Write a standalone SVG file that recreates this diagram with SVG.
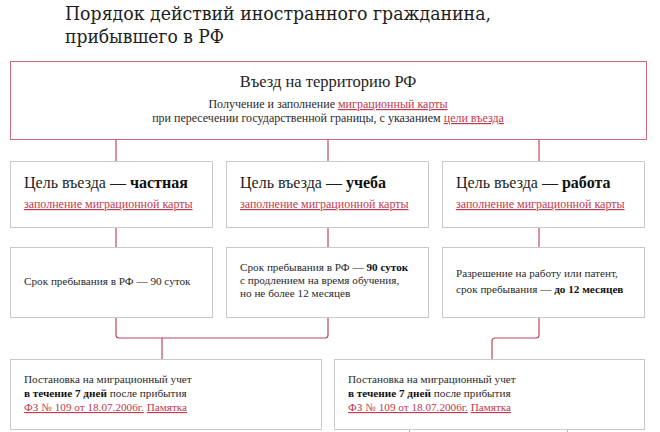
<svg xmlns="http://www.w3.org/2000/svg" width="660" height="432" viewBox="0 0 660 432">
<style>
.bg{fill:#ffffff}
.main{fill:#fff;stroke:#cf6a7c;stroke-width:1}
.box{fill:#fff;stroke:#c9c9c9;stroke-width:1}
.conn{fill:none;stroke:#bb4a5e;stroke-width:1.2}
.edge{fill:none;stroke:#b5b5b5;stroke-width:1}
.title{font-family:"DejaVu Serif","Liberation Serif",serif;font-size:18.5px;fill:#1e1e1e}
.h1{font-family:"Liberation Serif",serif;font-size:16.5px;fill:#1e1e1e}
.h2{font-family:"Liberation Serif",serif;font-size:16px;fill:#1e1e1e}
.t{font-family:"Liberation Serif",serif;font-size:12px;fill:#2a2a2a}
.s{font-family:"Liberation Serif",serif;font-size:11.2px;fill:#2a2a2a}
.b{font-weight:bold;fill:#111}
.lk{fill:#c23a4e;text-decoration:underline;text-decoration-color:#e7a9b3}
</style>
<rect class="bg" x="0" y="0" width="660" height="432"/>
<g id="title">
<text class="title" x="65" y="20" textLength="426" lengthAdjust="spacingAndGlyphs">Порядок действий иностранного гражданина,</text>
<text class="title" x="65" y="43" textLength="159" lengthAdjust="spacingAndGlyphs">прибывшего в РФ</text>
</g>
<g id="connectors">
<line class="conn" x1="116" y1="139" x2="116" y2="161"/>
<line class="conn" x1="328" y1="139" x2="328" y2="161"/>
<line class="conn" x1="539" y1="139" x2="539" y2="161"/>
<line class="conn" x1="116" y1="227" x2="116" y2="247"/>
<line class="conn" x1="328" y1="227" x2="328" y2="247"/>
<line class="conn" x1="539" y1="227" x2="539" y2="247"/>
<path class="conn" d="M116 317 V335 Q116 338 119 338 H325 Q328 338 328 335 V317"/>
<line class="conn" x1="162" y1="338" x2="162" y2="359"/>
<path class="conn" d="M539 317 V335 Q539 338 536 338 H495 Q492 338 492 341 V359"/>
</g>
<g id="entry">
<rect class="main" x="10.5" y="61.5" width="636" height="78"/>
<text class="h1" x="328" y="87" text-anchor="middle">Въезд на территорию РФ</text>
<text class="t" x="328" y="108" text-anchor="middle">Получение и заполнение <tspan class="lk">миграционный карты</tspan></text>
<text class="t" x="328" y="122" text-anchor="middle">при пересечении государственной границы, с указанием <tspan class="lk">цели въезда</tspan></text>
</g>
<g id="private">
<rect class="box" x="10.5" y="161.5" width="202" height="66"/>
<text class="h2" x="24" y="188">Цель въезда — <tspan class="b">частная</tspan></text>
<text class="t" x="24" y="208"><tspan class="lk">заполнение миграционной карты</tspan></text>
</g>
<g id="study">
<rect class="box" x="226.5" y="161.5" width="202" height="66"/>
<text class="h2" x="240" y="188">Цель въезда — <tspan class="b">учеба</tspan></text>
<text class="t" x="240" y="208"><tspan class="lk">заполнение миграционной карты</tspan></text>
</g>
<g id="work">
<rect class="box" x="442.5" y="161.5" width="202" height="66"/>
<text class="h2" x="456" y="188">Цель въезда — <tspan class="b">работа</tspan></text>
<text class="t" x="456" y="208"><tspan class="lk">заполнение миграционной карты</tspan></text>
</g>
<g id="stay-private">
<rect class="box" x="10.5" y="247.5" width="202" height="70"/>
<text class="s" x="24" y="285">Срок пребывания в РФ — 90 суток</text>
</g>
<g id="stay-study">
<rect class="box" x="226.5" y="247.5" width="202" height="70"/>
<text class="s" x="240" y="271">Срок пребывания в РФ — <tspan class="b">90 суток</tspan></text>
<text class="s" x="240" y="284">с продлением на время обучения,</text>
<text class="s" x="240" y="297">но не более 12 месяцев</text>
</g>
<g id="stay-work">
<rect class="box" x="442.5" y="247.5" width="202" height="70"/>
<text class="s" x="456" y="277">Разрешение на работу или патент,</text>
<text class="s" x="456" y="293">срок пребывания — <tspan class="b">до 12 месяцев</tspan></text>
</g>
<g id="reg-left">
<rect class="box" x="10.5" y="359.5" width="311" height="70"/>
<text class="s" x="24" y="383">Постановка на миграционный учет</text>
<text class="s" x="24" y="397"><tspan class="b">в течение 7 дней</tspan> после прибытия</text>
<text class="s" x="24" y="411"><tspan class="lk">ФЗ № 109 от 18.07.2006г.</tspan> <tspan class="lk">Памятка</tspan></text>
</g>
<g id="reg-right">
<rect class="box" x="334.5" y="359.5" width="310" height="70"/>
<text class="s" x="348" y="383">Постановка на миграционный учет</text>
<text class="s" x="348" y="397"><tspan class="b">в течение 7 дней</tspan> после прибытия</text>
<text class="s" x="348" y="411"><tspan class="lk">ФЗ № 109 от 18.07.2006г.</tspan> <tspan class="lk">Памятка</tspan></text>
</g>
<g id="below">
<line class="edge" x1="409.5" y1="430" x2="409.5" y2="432"/>
<line class="edge" x1="567.5" y1="430" x2="567.5" y2="432"/>
</g>
</svg>
